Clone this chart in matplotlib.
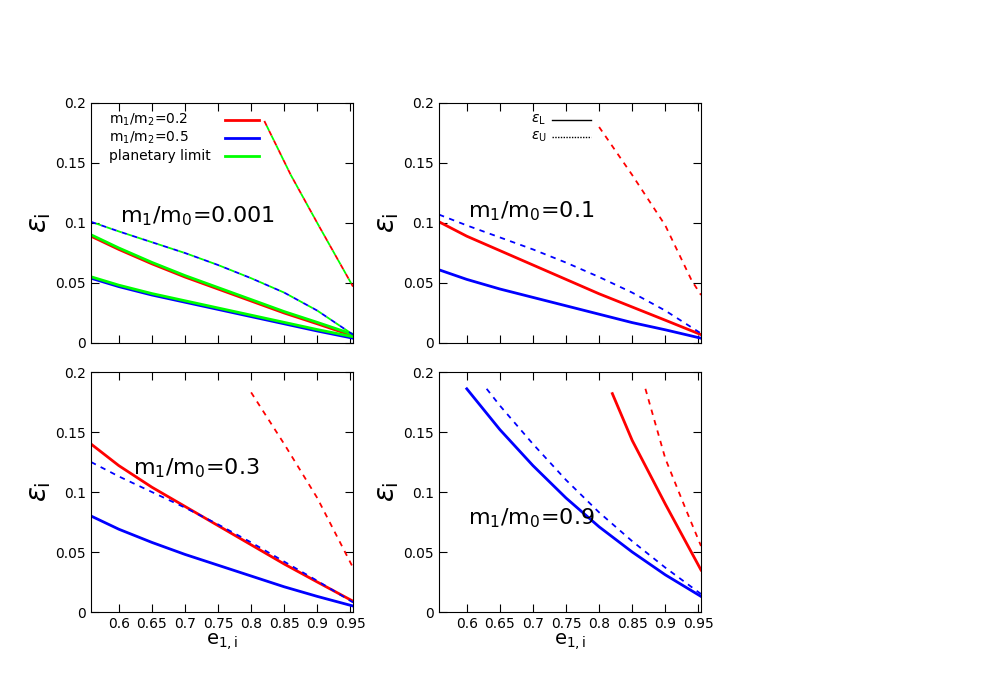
import matplotlib
matplotlib.use('Agg')
import matplotlib.pyplot as plt

# panel data: e values and epsilon values per curve
e_full = [0.558, 0.6, 0.65, 0.7, 0.75, 0.8, 0.85, 0.9, 0.954]

# m1/m0 = 0.001
p1_red_L = [0.089, 0.078, 0.066, 0.055, 0.045, 0.035, 0.025, 0.016, 0.006]
p1_blue_L = [0.054, 0.047, 0.040, 0.034, 0.028, 0.022, 0.016, 0.010, 0.004]
p1_blue_U = [0.101, 0.093, 0.084, 0.075, 0.065, 0.054, 0.042, 0.027, 0.007]
p1_red_U_e = [0.82, 0.86, 0.9, 0.954]
p1_red_U = [0.185, 0.140, 0.100, 0.047]

# m1/m0 = 0.1
p2_red_L = [0.101, 0.089, 0.077, 0.065, 0.053, 0.041, 0.030, 0.019, 0.007]
p2_blue_L = [0.061, 0.053, 0.045, 0.038, 0.031, 0.024, 0.017, 0.011, 0.004]
p2_blue_U = [0.107, 0.098, 0.088, 0.078, 0.067, 0.055, 0.042, 0.027, 0.008]
p2_red_U_e = [0.8, 0.85, 0.9, 0.94, 0.954]
p2_red_U = [0.180, 0.140, 0.098, 0.052, 0.040]

# m1/m0 = 0.3
p3_red_L = [0.140, 0.122, 0.104, 0.088, 0.072, 0.056, 0.040, 0.025, 0.009]
p3_blue_L = [0.080, 0.069, 0.058, 0.048, 0.039, 0.030, 0.021, 0.013, 0.005]
p3_blue_U = [0.125, 0.113, 0.100, 0.087, 0.073, 0.058, 0.042, 0.026, 0.008]
p3_red_U_e = [0.8, 0.85, 0.9, 0.954]
p3_red_U = [0.183, 0.140, 0.095, 0.037]

# m1/m0 = 0.9
p4_blue_L_e = [0.6, 0.65, 0.7, 0.75, 0.8, 0.85, 0.9, 0.954]
p4_blue_L = [0.186, 0.152, 0.122, 0.095, 0.071, 0.050, 0.031, 0.013]
p4_blue_U_e = [0.63, 0.65, 0.7, 0.75, 0.8, 0.85, 0.9, 0.954]
p4_blue_U = [0.186, 0.172, 0.140, 0.110, 0.083, 0.059, 0.037, 0.015]
p4_red_L_e = [0.82, 0.85, 0.9, 0.954]
p4_red_L = [0.182, 0.143, 0.090, 0.035]
p4_red_U_e = [0.87, 0.9, 0.93, 0.954]
p4_red_U = [0.186, 0.128, 0.087, 0.055]

titles = ['m$_1$/m$_0$=0.001', 'm$_1$/m$_0$=0.1', 'm$_1$/m$_0$=0.3', 'm$_1$/m$_0$=0.9']
legend_labels = ['m$_1$/m$_2$=0.2', 'm$_1$/m$_2$=0.5', 'planetary limit']

RED = '#ff0000'
BLUE = '#0000ff'
GREEN = '#00ff00'
DASH = (0, (3, 3))

fig = plt.figure(figsize=(9.81, 6.87), dpi=100)
W, H = 981, 687
boxes = [(91, 103), (439, 103), (91, 372), (439, 372)]
axes = []
for (x0, y0) in boxes:
    ax = fig.add_axes([x0 / W, 1 - (y0 + 240) / H, 262 / W, 240 / H])
    axes.append(ax)

ax = axes[0]
ax.plot(e_full, p1_red_L, color=RED, lw=2)
ax.plot(e_full, p1_blue_L, color=BLUE, lw=2)
ax.plot(e_full, [v + 0.0012 for v in p1_red_L], color=GREEN, lw=2)
ax.plot(e_full, [v + 0.0012 for v in p1_blue_L], color=GREEN, lw=2)
ax.plot(e_full, p1_blue_U, color=BLUE, lw=1.3, ls=DASH)
ax.plot(e_full, p1_blue_U, color=GREEN, lw=1.3, ls=(3, (3, 3)))
ax.plot(p1_red_U_e, p1_red_U, color=RED, lw=1.3, ls=DASH)
ax.plot(p1_red_U_e, p1_red_U, color=GREEN, lw=1.3, ls=(3, (3, 3)))
# hand-made legend: text left, line right
for k, (lab, col) in enumerate(zip(legend_labels, [RED, BLUE, GREEN])):
    yy = 0.93 - k * 0.075
    ax.text(0.07, yy, lab, transform=ax.transAxes, fontsize=10, ha='left', va='center')
    ax.plot([0.51, 0.64], [yy, yy], transform=ax.transAxes, color=col, lw=2)

ax = axes[1]
ax.plot(e_full, p2_red_L, color=RED, lw=2)
ax.plot(e_full, p2_blue_L, color=BLUE, lw=2)
ax.plot(e_full, p2_blue_U, color=BLUE, lw=1.3, ls=DASH)
ax.plot(p2_red_U_e, p2_red_U, color=RED, lw=1.3, ls=DASH)
for k, (lab, style) in enumerate(zip([r'$\epsilon_{\rm L}$', r'$\epsilon_{\rm U}$'], ['-', (0, (1, 1))])):
    yy = 0.93 - k * 0.07
    ax.text(0.35, yy, lab, transform=ax.transAxes, fontsize=10, ha='left', va='center')
    ax.plot([0.43, 0.58], [yy, yy], transform=ax.transAxes, color='black', lw=1, ls=style)

ax = axes[2]
ax.plot(e_full, p3_red_L, color=RED, lw=2)
ax.plot(e_full, p3_blue_L, color=BLUE, lw=2)
ax.plot(e_full, p3_blue_U, color=BLUE, lw=1.3, ls=DASH)
ax.plot(p3_red_U_e, p3_red_U, color=RED, lw=1.3, ls=DASH)

ax = axes[3]
ax.plot(p4_blue_L_e, p4_blue_L, color=BLUE, lw=2)
ax.plot(p4_blue_U_e, p4_blue_U, color=BLUE, lw=1.3, ls=DASH)
ax.plot(p4_red_L_e, p4_red_L, color=RED, lw=2)
ax.plot(p4_red_U_e, p4_red_U, color=RED, lw=1.3, ls=DASH)

title_pos = [(0.11, 0.53), (0.11, 0.55), (0.16, 0.6), (0.11, 0.39)]
for i, ax in enumerate(axes):
    ax.set_xlim(0.558, 0.954)
    ax.set_ylim(0, 0.2)
    ax.set_xticks([0.6, 0.65, 0.7, 0.75, 0.8, 0.85, 0.9, 0.95])
    ax.set_yticks([0, 0.05, 0.1, 0.15, 0.2])
    ax.set_yticklabels(['0', '0.05', '0.1', '0.15', '0.2'])
    ax.tick_params(direction='in', top=True, right=True, length=6, labelsize=10)
    ax.set_ylabel(r'$\epsilon_{\rm i}$', fontsize=20, labelpad=2)
    ax.text(title_pos[i][0], title_pos[i][1], titles[i], transform=ax.transAxes, fontsize=16,
            ha='left', va='center')
    if i < 2:
        ax.set_xticklabels([])
    else:
        ax.set_xticklabels(['0.6', '0.65', '0.7', '0.75', '0.8', '0.85', '0.9', '0.95'])
        ax.set_xlabel(r'e$_{\rm 1,i}$', fontsize=14, labelpad=0)

fig.savefig('out.png', dpi=100)
